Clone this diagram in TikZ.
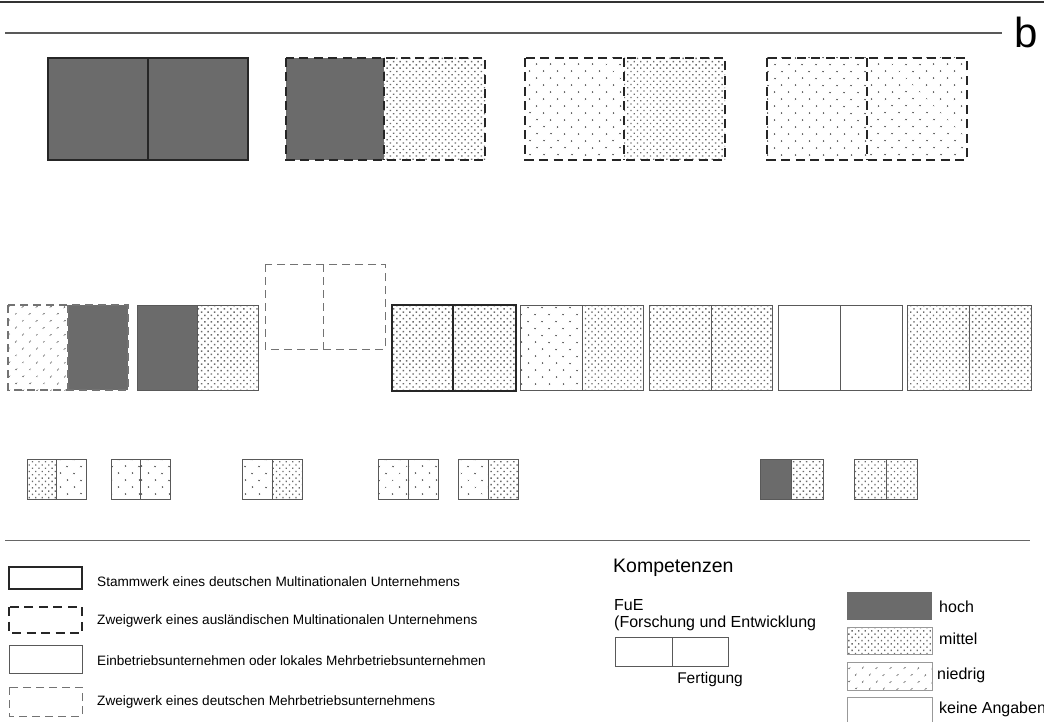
\documentclass[tikz,border=0pt]{standalone}
\usepackage{fontspec}
\setmainfont{Liberation Sans}
\usetikzlibrary{patterns.meta}

% one plant: FuE half left, Fertigung half right
\newcommand{\werk}[8]{%
	\fill[#6] (#1,#2) rectangle (#5,#4);
	\fill[#7] (#5,#2) rectangle (#3,#4);
	\draw[#8] (#1,#2) rectangle (#3,#4) (#5,#2) -- (#5,#4);}

\begin{document}
\begin{tikzpicture}[x=1pt, y=-1pt,
	every node/.style={font=\fontsize{13.6}{15}\selectfont, inner sep=0pt},
	gross/.style={font=\fontsize{16}{17}\selectfont},
	hoch/.style={fill=black!58},
	mittel/.style={pattern={Dots[distance=4.6pt, angle=45, radius=1pt]}, pattern color=black!58},
	niedrig/.style={pattern={Dots[distance=10.5pt, angle=45, radius=1pt]}, pattern color=black!60},
	leer/.style={fill=white},
	stamm/.style={draw=black!85, line width=2.3pt},
	ausland/.style={draw=black!85, line width=2.3pt, dash pattern=on 9pt off 5.5pt},
	lokal/.style={draw=black!65, line width=1pt},
	zweig/.style={draw=black!55, line width=1pt, dash pattern=on 8pt off 5pt}]
	\useasboundingbox (0,0) rectangle (1044,722);
	% rules and panel letter
	\draw[black!80, line width=2.5pt] (0,2) -- (1044,2);
	\draw[black!65, line width=1.3pt] (5,33) -- (1002,33);
	\node[anchor=base west, font=\fontsize{42}{42}\selectfont] (buchstabe) at (1014,48) {b};
	\draw[black!60, line width=1pt] (5,540) -- (1030,540);
	% top row
	\werk{48}{58}{248}{160}{148}{hoch}{hoch}{stamm}
	\werk{286}{58}{485}{160}{384}{hoch}{mittel}{ausland}
	\werk{525}{58}{725}{160}{624}{niedrig}{mittel}{ausland}
	\werk{767}{58}{967}{160}{867}{niedrig}{niedrig}{ausland}
	% middle row
	\werk{8}{305}{128}{390}{68}{niedrig}{hoch}{zweig, line width=1.5pt}
	\werk{137}{305}{258}{390}{197}{hoch}{mittel}{lokal}
	\werk{265}{264}{385}{349}{323}{leer}{leer}{zweig}
	\werk{392}{305}{516}{391}{453}{mittel}{mittel}{stamm}
	\werk{520}{305}{643}{390}{582}{niedrig}{mittel}{lokal}
	\werk{649}{305}{772}{390}{711}{mittel}{mittel}{lokal}
	\werk{778}{305}{902}{390}{840}{leer}{leer}{lokal}
	\werk{907}{305}{1031}{390}{969}{mittel}{mittel}{lokal}
	% bottom row
	\werk{27}{459}{86}{499}{56}{mittel}{niedrig}{lokal}
	\werk{111}{459}{170}{499}{140}{niedrig}{niedrig}{lokal}
	\werk{242}{459}{302}{499}{272}{niedrig}{mittel}{lokal}
	\werk{378}{459}{438}{499}{408}{niedrig}{niedrig}{lokal}
	\werk{458}{459}{518}{499}{488}{niedrig}{mittel}{lokal}
	\werk{760}{459}{823}{499}{791}{hoch}{mittel}{lokal}
	\werk{854}{459}{917}{499}{886}{mittel}{mittel}{lokal}
	% legend: type of plant
	\draw[stamm] (9,567) rectangle (82,589);
	\draw[ausland] (9,607) rectangle (82,633);
	\draw[lokal] (9,645) rectangle (82,673);
	\draw[zweig] (9,687) rectangle (82,716);
	\node[anchor=west] (stamm-txt) at (97,582) {Stammwerk eines deutschen Multinationalen Unternehmens};
	\node[anchor=west] (ausland-txt) at (97,621) {Zweigwerk eines ausländischen Multinationalen Unternehmens};
	\node[anchor=west] (lokal-txt) at (97,661) {Einbetriebsunternehmen oder lokales Mehrbetriebsunternehmen};
	\node[anchor=west] (zweig-txt) at (97,702) {Zweigwerk eines deutschen Mehrbetriebsunternehmens};
	% legend: competences
	\node[anchor=west, font=\fontsize{19.5}{21}\selectfont] (kompetenzen) at (613,568) {Kompetenzen};
	\node[anchor=west, align=left, gross] (fue) at (614,615) {FuE\\(Forschung und Entwicklung};
	\werk{615}{637}{728}{666}{672}{leer}{leer}{lokal}
	\node[font=\fontsize{15.5}{17}\selectfont] (fertigung) at (710,679) {Fertigung};
	\fill[hoch] (847,592) rectangle (932,620);
	\fill[mittel] (847,627) rectangle (932,654);
	\draw[lokal, black!40, line width=0.6pt] (847,627) rectangle (932,654);
	\fill[niedrig] (847,662) rectangle (932,690);
	\draw[lokal, black!40, line width=0.6pt] (847,662) rectangle (932,690);
	\draw[lokal, black!40, line width=0.6pt] (847,697) rectangle (932,730);
	\node[anchor=west, gross] (hoch-txt) at (939,607) {hoch};
	\node[anchor=west, gross] (mittel-txt) at (939,639) {mittel};
	\node[anchor=west, gross] (niedrig-txt) at (937,675) {niedrig};
	\node[anchor=west, gross] (leer-txt) at (939,709) {keine Angaben};
\end{tikzpicture}
\end{document}
